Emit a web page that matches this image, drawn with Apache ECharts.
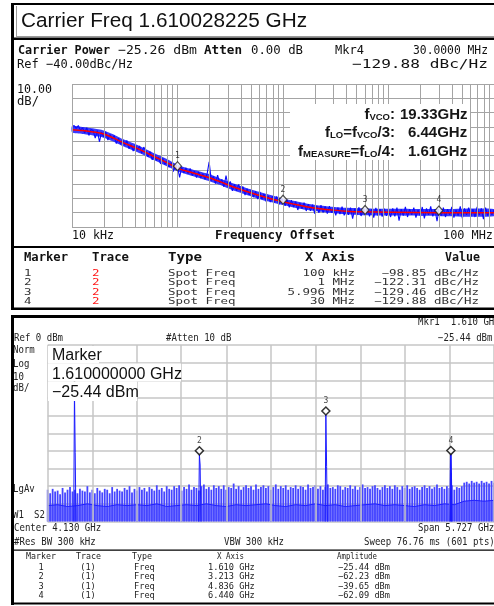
<!DOCTYPE html>
<html><head><meta charset="utf-8">
<script src="https://cdn.jsdelivr.net/npm/echarts@6/dist/echarts.min.js"></script>
<style>html,body{margin:0;padding:0;background:#fff;}#c{width:494px;height:606px;}</style>
</head><body><div id="c"></div>
<script>
// ================= DATA =================
// --- Upper instrument: phase noise (log offset axis) ---
const pnStartHz = 1e4, pnStopHz = 1e8;
const pnTopDbc = -40, pnBottomDbc = -140, pnDbPerDiv = 10;
// raw (blue) trace, 201 sweep points log-spaced from 10 kHz to 100 MHz
const pnTraceBlue = [
-70,-69,-71,-69,-72.5,-70.6,-74.3,-70.5,-76,-71.8,
-72.5,-77.8,-72.6,-80.4,-73.7,-77,-73.6,-79.2,-75.3,-78.4,
-76,-81.7,-77.9,-82.1,-78.8,-82.9,-79.5,-85.2,-82.3,-86.9,
-82.5,-86.2,-83.3,-88.5,-84.1,-86.8,-91,-87.3,-93,-89.3,
-93.5,-91.2,-95.9,-92.1,-96.3,-94,-98.3,-95,-101.3,-97,
-97.8,-105.3,-98.3,-102.2,-98.7,-102.7,-99.1,-104,-101,-105.4,
-101.3,-105.7,-102.7,-106.6,-103.1,-94.5,-107.5,-104.6,-109.6,-103.7,
-109.2,-106.8,-111.9,-104,-112,-108.1,-114.7,-110.2,-114.7,-110.2,
-115.2,-111.7,-117.7,-113.2,-117.7,-113.7,-119.1,-115.1,-120.5,-115.4,
-120.4,-116.8,-122.3,-118.2,-122.5,-118.4,-122.8,-118.7,-124.5,-120.4,
-121.3,-125.1,-121,-126.3,-121.2,-126,-122.3,-128.1,-123.4,-127.2,
-123,-128.8,-124,-128.7,-124.4,-130.6,-125.3,-130.1,-124.8,-129.9,
-125.6,-130.7,-125.4,-130,-126.2,-131.8,-126.4,-131,-125.7,-131.8,
-126.9,-131.5,-126.5,-134.1,-127.1,-131.7,-126.2,-132.3,-127.3,-131.9,
-126.9,-132.5,-127.5,-133.5,-126.6,-132.1,-127.6,-132.7,-127.2,-132.2,
-127.8,-133,-127,-132.5,-126.5,-135.5,-127.5,-132,-126,-133,
-127.5,-131.5,-126.5,-133.5,-128,-132,-126,-134,-127,-131.5,
-125.5,-132.5,-127.5,-136,-127,-132,-126.5,-133,-127.5,-131.5,
-126,-133.5,-128,-132,-125.5,-134,-127,-131.5,-126.5,-132.5,
-127.5,-133,-126,-131.5,-127,-134.5,-126.5,-132,-127.5,-131.5,
-128];
// smoothed (red) trace
const pnRedFreqs = [1e4,1.26e4,1.58e4,2e4,2.51e4,3.02e4,3.98e4,5.01e4,6.03e4,7.94e4,1e5,1.26e5,1.58e5,2e5,2.51e5,3.39e5,5.01e5,7.08e5,1e6,1.26e6,1.66e6,2.24e6,3.02e6,3.98e6,6.03e6,1e7,3.16e7,1e8];
const pnRedVals  = [-72,-72.6,-73.5,-75,-78,-80.8,-84.5,-87.8,-90.8,-95,-98.8,-101.2,-103.3,-105.5,-108.2,-112,-116.2,-119.5,-122.3,-124,-125.8,-127.2,-128.2,-128.9,-129.4,-129.7,-130,-130];
// dense part of the raw trace: upper / lower edge of the blue band (same offsets as the red trace)
const pnBandUpper = [-69.5,-70,-71,-72.5,-75.5,-78.5,-82,-85.5,-88.5,-92.5,-96.5,-99,-101,-103,-106,-109.5,-113.8,-117,-120,-121.7,-123.5,-125,-126,-126.6,-127,-127.2,-127.4,-127.4];
const pnBandLower = [-74,-75,-76,-77.5,-80.5,-83.3,-87,-90.3,-93.3,-97.5,-101,-103.5,-105.6,-108,-110.5,-114.5,-118.6,-122,-124.6,-126.3,-128,-129.4,-130.4,-131.2,-131.8,-132,-132.4,-132.4];
const pnMarkerFreqs = [1e5, 1e6, 5.996e6, 3e7];
const pnMarkerVals  = [-98.85, -122.31, -129.46, -129.88];
const pnMarkerTrace = ['2','2','2','2'];
const pnMarkerXLabels = ['100 kHz','1 MHz','5.996 MHz','30 MHz'];
const pnMarkerValLabels = ['\u221298.85 dBc/Hz','\u2212122.31 dBc/Hz','\u2212129.46 dBc/Hz','\u2212129.88 dBc/Hz'];
const pnXTickLabels = ['10 kHz','100 MHz'];

// --- Lower instrument: spectrum analyzer ---
const saCenterGHz = 4.130, saSpanGHz = 5.727, saSweepPts = 601;
const saRefDbm = 0, saBottomDbm = -100, saDbPerDiv = 10;
const saNoiseTops = [
-82,-84,-81.5,-83,-82.5,-84.5,-81,-83.5,-82,-80.5,
-83,-82,-84,-81.5,-82.5,-83,-80,-83.5,-82,-84,
-81,-82.5,-83.5,-81.5,-82,-84,-80.5,-83,-81.5,-82.5,
-83,-81,-82,-80,-83.5,-81.5,-82.5,-80.5,-82,-81,
-83,-80.5,-81.5,-82.5,-79.5,-82,-81,-83,-80,-81.5,
-82,-80,-81,-79.5,-82.5,-80.5,-81.5,-79,-82,-80.5,
-81,-82.5,-80,-79,-81.5,-80.5,-82,-79.5,-81,-80,
-81.5,-79.5,-82,-80.5,-81,-78.5,-81.5,-80,-82,-80.5,
-79.5,-81,-80,-82,-79,-81.5,-80.5,-79.5,-81,-80,
-82,-80.5,-79,-81.5,-80,-81,-79.5,-82,-80.5,-81,
-79.5,-81.5,-80,-80.5,-82,-79,-81,-80.5,-79.5,-81.5,
-80,-82,-80.5,-79,-81,-80.5,-81.5,-79.5,-80,-82,
-80.5,-81,-79.5,-81.5,-80,-82,-80.5,-79,-81,-80.5,
-81.5,-80,-79.5,-81,-82,-80.5,-79.5,-81,-80,-81.5,
-79.5,-80.5,-82,-80,-81,-79.5,-81.5,-80.5,-80,-81,
-82,-80.5,-79.5,-81,-80,-81.5,-80.5,-79,-81,-80.5,
-81.5,-80,-81,-79.5,-82,-80.5,-81,-80,-78,-77.5,
-78.5,-77,-78,-77.5,-78.5,-77,-78,-77.5,-78.5,-77,-78];
const saNoiseTroughs = [
-91,-90.5,-91.5,-91,-90,-91,-91.5,-90.5,-91,-90.5,
-91,-90,-91.5,-91,-90.5,-91,-90,-91,-91.5,-90.5,
-91,-90.5,-90,-91,-91.5,-90.5,-91,-90,-91,-90.5,
-91.5,-91,-90.5,-90,-91,-90.5,-91,-91.5,-90.5,-91,
-90,-90.5,-88.5,-88,-88.5,-88];
const saMarkerFreqs = [1.610, 3.213, 4.836, 6.440];
const saMarkerAmps  = [-25.44, -62.23, -39.65, -62.09];
const saSpikeShoulders = [-61, -68, -69, null];
const saMarkerXLabels = ['1.610 GHz','3.213 GHz','4.836 GHz','6.440 GHz'];
const saMarkerAmpLabels = ['\u221225.44 dBm','\u221262.23 dBm','\u221239.65 dBm','\u221262.09 dBm'];

// ================= BUILD =================
const saStart = saCenterGHz - saSpanGHz/2, saStop = saCenterGHz + saSpanGHz/2;
const pnFreqAt = i => Math.pow(10, Math.log10(pnStartHz) + (Math.log10(pnStopHz)-Math.log10(pnStartHz))*i/(pnTraceBlue.length-1));
const pnGridFreqs = [];
for (let k = 4; k < 8; k++) for (let m = 1; m < 10; m++) pnGridFreqs.push(m*Math.pow(10,k));
pnGridFreqs.push(pnStopHz);
const saGridFreqs = [];
for (let k = 0; k <= 10; k++) saGridFreqs.push(saStart + k*saSpanGHz/10);
const saStep = saSpanGHz/(saSweepPts-1);

const MONO = '"DejaVu Sans Mono"';
const cv = document.createElement('canvas').getContext('2d');
function txt(text, font, x, y, o) {
  o = o || {};
  const al = o.align || 'left';
  return {type:'text', x:x, y:y, z:o.z||110, silent:true, scaleX:o.scaleX||1, scaleY:o.scaleY||1,
    style:{text:text, font:font, fill:o.fill||'#111', textAlign:al, align:al, textVerticalAlign:'middle', verticalAlign:'middle', rich:o.rich,
      textShadowColor:o.shColor, textShadowOffsetX:o.shX||0, textShadowOffsetY:o.shY||0}};
}
function fit(text, font, x0, x1, y, o) {
  o = o || {};
  cv.font = font;
  const w = cv.measureText(text).width;
  return txt(text, font, o.align==='right'?x1:x0, y, Object.assign({}, o, {scaleX:(x1-x0)/w}));
}
function mt(text, x, y, size, adv, o) {
  o = o || {};
  const font = (o.bold?'bold ':'') + size + 'px ' + MONO;
  cv.font = font;
  const nat = cv.measureText('0000000000').width/10;
  return txt(text, font, x, y, Object.assign({}, o, {scaleX:adv/nat}));
}
function rect(x,y,w,h,fill,z){return {type:'rect', silent:true, z:z||120, shape:{x:x,y:y,width:w,height:h}, style:{fill:fill}};}

const G = [];
// frames
G.push(rect(11,3,483,2,'#000'));
G.push(rect(11,3,3,306,'#000'));
G.push(rect(16,6,1,31,'#9a9a9a'));
G.push(rect(16,36,478,1,'#9a9a9a'));
G.push(rect(14,37.5,480,2.5,'#000'));
G.push(rect(14,246,480,2,'#000'));
G.push(rect(11,307.5,483,2.5,'#000'));
G.push(rect(11,315,483,3,'#000'));
G.push(rect(11,315,3,290,'#000'));
G.push(rect(14,549.5,480,1.2,'#000'));
G.push(rect(11,602.5,483,2,'#000'));

// upper texts
const F12 = '12.5px ' + MONO, F12b = 'bold 12.5px ' + MONO;
G.push(fit('Carrier Freq 1.610028225 GHz', '20.5px "Liberation Sans"', 21, 307, 21));
G.push(fit('Carrier Power', F12b, 18, 110, 51));
G.push(fit('\u221225.26 dBm', F12, 118, 197, 51));
G.push(fit('Atten', F12b, 204, 242, 51));
G.push(fit('0.00 dB', F12, 251, 303, 51));
G.push(fit('Mkr4', F12, 335, 364, 51));
G.push(fit('30.0000 MHz', F12, 413, 488, 51));
G.push(fit('Ref \u221240.00dBc/Hz', F12, 17, 133, 64.5));
G.push(fit('\u2212129.88 dBc/Hz', F12, 352, 488, 64.5));
G.push(fit('10.00', F12, 17, 52, 90));
G.push(fit('dB/', F12, 17, 39, 102));
G.push(fit(pnXTickLabels[0], F12, 72, 114, 235.7));
G.push(fit('Frequency Offset', F12b, 215, 335, 235.7));
G.push(fit(pnXTickLabels[1], F12, 443, 493, 235.7));
G.push(fit('Marker', F12b, 24, 68, 258));
G.push(fit('Trace', F12b, 92, 129, 258));
G.push(fit('Type', F12b, 168, 202, 258));
G.push(fit('X Axis', F12b, 305, 355, 258));
G.push(fit('Value', F12b, 445, 480, 258));
const pnRowY = [273.5, 283, 292.3, 301.7];
for (let i = 0; i < 4; i++) {
  const y = pnRowY[i];
  G.push(mt(String(i+1), 24, y, 8.5, 7.5, {fill:'#333'}));
  G.push(mt(pnMarkerTrace[i], 92, y, 8.5, 7.5, {fill:'#ff1a1a'}));
  G.push(mt('Spot Freq', 168, y, 8.5, 7.5, {fill:'#333'}));
  G.push(mt(pnMarkerXLabels[i], 355, y, 8.5, 7.5, {fill:'#333', align:'right'}));
  G.push(mt(pnMarkerValLabels[i], 479, y, 8.5, 7.5, {fill:'#333', align:'right'}));
}
// annotation box
G.push(rect(290,104,180,56,'#fff',100));
const annRich = {
  b:{font:'bold 15px "Liberation Sans"', fill:'#161616', textShadowColor:'rgba(140,105,30,0.65)', textShadowOffsetX:1, textShadowOffsetY:1, verticalAlign:'bottom', lineHeight:15},
  s:{font:'bold 9.5px "Liberation Sans"', fill:'#161616', textShadowColor:'rgba(140,105,30,0.65)', textShadowOffsetX:1, textShadowOffsetY:1, verticalAlign:'bottom', lineHeight:11}
};
const annFont = 'bold 15px "Liberation Sans"';
const annOpt = {align:'right', rich:annRich};
const annV = {fill:'#161616', shColor:'rgba(140,105,30,0.65)', shX:1, shY:1};
G.push(txt('{b|f}{s|VCO}{b|:}', annFont, 395, 115, annOpt));
G.push(txt('19.33GHz', annFont, 400, 115, annV));
G.push(txt('{b|f}{s|LO}{b|=f}{s|VCO}{b|/3:}', annFont, 395, 133, annOpt));
G.push(txt('6.44GHz', annFont, 408, 133, annV));
G.push(txt('{b|f}{s|MEASURE}{b|=f}{s|LO}{b|/4:}', annFont, 395, 152, annOpt));
G.push(txt('1.61GHz', annFont, 408, 152, annV));

// lower texts
const s9 = {fill:'#222', scaleY:1.1};
function lt(t,x,y,o){return mt(t,x,y,9,5.45,Object.assign({},s9,o||{}));}
G.push(lt('Mkr1  1.610 GHz', 418, 322));
G.push(lt('Ref 0 dBm', 14, 338));
G.push(lt('#Atten 10 dB', 166, 338));
G.push(lt('\u221225.44 dBm', 438, 338));
G.push(lt('Norm', 13, 350));
G.push(lt('Log', 13, 364));
G.push(lt('10', 13, 377));
G.push(lt('dB/', 13, 388));
G.push(lt('LgAv', 13, 489));
G.push(lt('W1', 13, 515));
G.push(lt('S2', 34, 515));
G.push(lt('Center 4.130 GHz', 14, 528.5));
G.push(lt('Span 5.727 GHz', 418, 528.5));
G.push(lt('#Res BW 300 kHz', 14, 542));
G.push(lt('VBW 300 kHz', 224, 542));
G.push(lt('Sweep 76.76 ms (601 pts)', 364, 542));
const F8 = '8.5px ' + MONO;
G.push(fit('Marker', F8, 26, 56, 556.7, {fill:'#222'}));
G.push(fit('Trace', F8, 76, 101, 556.7, {fill:'#222'}));
G.push(fit('Type', F8, 132, 152, 556.7, {fill:'#222'}));
G.push(fit('X Axis', F8, 217, 244, 556.7, {fill:'#222'}));
G.push(fit('Amplitude', F8, 337, 377, 556.7, {fill:'#222'}));
const saRowY = [567.5, 577, 586.5, 596];
for (let i = 0; i < 4; i++) {
  const y = saRowY[i];
  G.push(mt(String(i+1), 41, y, 8.5, 5.2, {fill:'#222', align:'center'}));
  G.push(mt('(1)', 88, y, 8.5, 5.2, {fill:'#222', align:'center'}));
  G.push(mt('Freq', 134, y, 8.5, 5.2, {fill:'#222'}));
  G.push(mt(saMarkerXLabels[i], 208, y, 8.5, 5.2, {fill:'#222'}));
  G.push(mt(saMarkerAmpLabels[i], 338, y, 8.5, 5.2, {fill:'#222'}));
}
// marker readout box on lower plot
G.push(rect(48,346,51,17.5,'#fff',100));
G.push(rect(48,363.5,133,18,'#fff',100));
G.push(rect(48,381.5,89,19.5,'#fff',100));
const FM = '16px "Liberation Sans"';
G.push(txt('Marker', FM, 52, 356));
G.push(txt('1.610000000 GHz', FM, 52, 374.5));
G.push(txt('\u221225.44 dBm', FM, 52, 392.5));

// ================= SERIES =================
const gridLine = (xi, freqs, color, width) => ({
  type:'line', xAxisIndex:xi, yAxisIndex:xi, data:[], silent:true, z:1, symbol:'none',
  markLine:{silent:true, symbol:['none','none'], label:{show:false}, animation:false,
    lineStyle:{color:color, width:width, type:'solid'}, emphasis:{disabled:true},
    data:freqs.map(f => ({xAxis:f}))}
});
const series = [
  gridLine(0, pnGridFreqs, '#a4a4a4', 1),
  gridLine(1, saGridFreqs, '#c6c6c6', 1.5),
  // blue band (dense part of raw trace)
  {type:'custom', coordinateSystem:'cartesian2d', xAxisIndex:0, yAxisIndex:0, z:2, silent:true,
   data:[[pnRedFreqs[0], pnBandUpper[0]]],
   renderItem:function(params, api){
     const pts = [];
     for (let i = 0; i < pnRedFreqs.length; i++) pts.push(api.coord([pnRedFreqs[i], pnBandUpper[i]]));
     for (let i = pnRedFreqs.length-1; i >= 0; i--) pts.push(api.coord([pnRedFreqs[i], pnBandLower[i]]));
     return {type:'polygon', shape:{points:pts, smooth:0.2}, style:{fill:'#2525ff', opacity:0.9}};
   }},
  {type:'line', xAxisIndex:0, yAxisIndex:0, z:3, symbol:'none', silent:true,
   data: pnTraceBlue.map((v,i) => [pnFreqAt(i), v]), lineStyle:{color:'#0a0aff', width:1.1}},
  {type:'line', xAxisIndex:0, yAxisIndex:0, z:4, symbol:'none', silent:true, smooth:0.3,
   data: pnRedFreqs.map((f,i) => [f, pnRedVals[i]]), lineStyle:{color:'#ff0000', width:1.5}},
  {type:'scatter', xAxisIndex:0, yAxisIndex:0, z:5, silent:true,
   data: pnMarkerFreqs.map((f,i) => [f, pnMarkerVals[i]]),
   symbol:'diamond', symbolSize:[8,9], symbolOffset:[0,-2],
   itemStyle:{color:'#fff', borderColor:'#222', borderWidth:1.2},
   label:{show:true, position:'top', distance:1, formatter:p => String(p.dataIndex+1), fontSize:8, fontFamily:'DejaVu Sans Mono', color:'#111'}},
  // lower trace: trough envelope area
  {type:'line', xAxisIndex:1, yAxisIndex:1, z:2, symbol:'none', silent:true,
   data: saNoiseTroughs.map((v,i) => [saStart + i*saSpanGHz/(saNoiseTroughs.length-1), v]),
   lineStyle:{width:0}, areaStyle:{origin:'start', color:'#8484ff', opacity:1}},
  // noise stripes
  {type:'custom', coordinateSystem:'cartesian2d', xAxisIndex:1, yAxisIndex:1, z:3, silent:true,
   encode:{x:0, y:1},
   data: saNoiseTops.map((v,i) => [saStart + i*saSpanGHz/(saNoiseTops.length-1), v]),
   renderItem:function(params, api){
     const p1 = api.coord([api.value(0), api.value(1)]);
     const p0 = api.coord([api.value(0), saBottomDbm]);
     return {type:'rect', shape:{x:p1[0]-0.9, y:p1[1], width:1.8, height:p0[1]-p1[1]}, style:{fill:'#4646ff'}};
   }},
  {type:'line', xAxisIndex:1, yAxisIndex:1, z:4, symbol:'none', silent:true,
   data: saNoiseTroughs.map((v,i) => [saStart + i*saSpanGHz/(saNoiseTroughs.length-1), v]),
   lineStyle:{color:'#2020ff', width:1}}
];
saMarkerFreqs.forEach((f,i) => {
  const sh = saSpikeShoulders[i];
  const d = sh === null
    ? [[f - saStep, saBottomDbm], [f, saMarkerAmps[i]], [f + saStep, saBottomDbm]]
    : [[f - saStep, saBottomDbm], [f, saMarkerAmps[i]], [f + saStep, sh], [f + 2*saStep, saBottomDbm]];
  series.push({type:'line', xAxisIndex:1, yAxisIndex:1, z:5, symbol:'none', silent:true, data:d,
    lineStyle:{color:'#1a1aff', width: sh === null ? 1.8 : 1}});
});
series.push({type:'scatter', xAxisIndex:1, yAxisIndex:1, z:6, silent:true,
  data: saMarkerFreqs.map((f,i) => [f, saMarkerAmps[i]]),
  symbol:'diamond', symbolSize:[8,8], symbolOffset:[0,-4],
  itemStyle:{color:'#fff', borderColor:'#000', borderWidth:1.5},
  label:{show:true, position:'top', distance:1, formatter:p => String(p.dataIndex+1), fontSize:8, fontFamily:'DejaVu Sans Mono', color:'#111'}});

const hidden = {axisLine:{show:false}, axisTick:{show:false}, axisLabel:{show:false}};
const option = {
  animation:false,
  backgroundColor:'#fff',
  grid:[{left:72, top:84, width:422, height:143}, {left:47.7, top:345, width:452.5, height:176.5}],
  xAxis:[
    Object.assign({type:'log', logBase:10, gridIndex:0, min:pnStartHz, max:pnStopHz, splitLine:{show:false}}, hidden),
    Object.assign({type:'value', gridIndex:1, min:saStart, max:saStop, splitLine:{show:false}}, hidden)
  ],
  yAxis:[
    Object.assign({type:'value', gridIndex:0, min:pnBottomDbc, max:pnTopDbc, interval:pnDbPerDiv,
      splitLine:{show:true, lineStyle:{color:'#a4a4a4', width:1}}}, hidden),
    Object.assign({type:'value', gridIndex:1, min:saBottomDbm, max:saRefDbm, interval:saDbPerDiv,
      splitLine:{show:true, lineStyle:{color:'#c6c6c6', width:1.5}}}, hidden)
  ],
  graphic:{elements:G},
  series:series
};
const chart = echarts.init(document.getElementById('c'), null, {renderer:'canvas', width:494, height:606});
chart.setOption(option);
</script></body></html>
